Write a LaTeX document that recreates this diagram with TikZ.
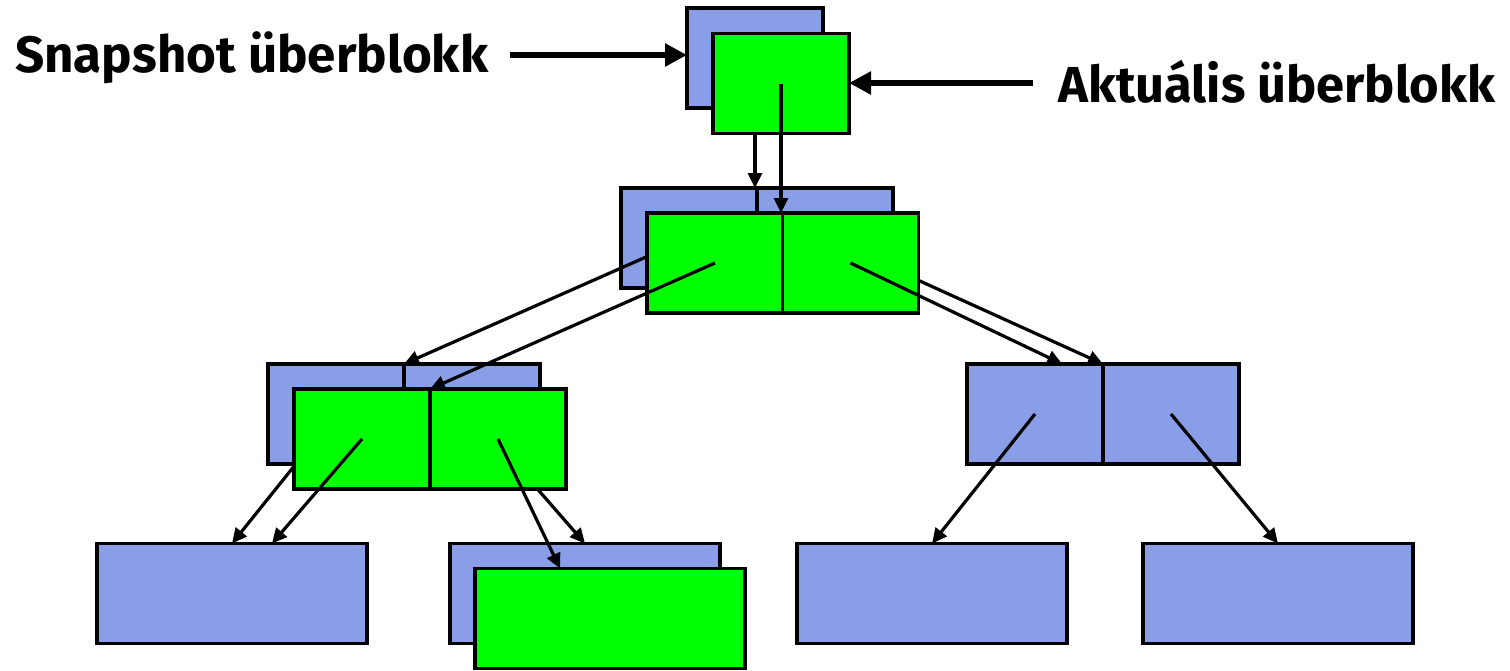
\documentclass[tikz,border=0pt]{standalone}
\usepackage{fontspec}
\setmainfont{Fira Sans}
\usetikzlibrary{arrows.meta,calc}
\definecolor{oldblue}{RGB}{137,158,230}
\definecolor{newgreen}{RGB}{0,255,0}
\begin{document}
\begin{tikzpicture}[x=1pt,y=-1pt,
  blk/.style={draw=black,line width=3.6pt,minimum width=136pt,minimum height=100pt,inner sep=0pt,outer sep=0pt},
  wide/.style={blk,minimum width=270pt},
  old/.style={fill=oldblue},
  new/.style={fill=newgreen},
  ptr/.style={line width=3.2pt,-{Triangle[length=15pt,width=14pt]}},
  bigptr/.style={line width=5.5pt,-{Triangle[length=22pt,width=22pt]}},
  lbl/.style={font=\bfseries\fontsize{58}{60}\selectfont,inner sep=0pt,anchor=base west}]
\useasboundingbox (0,0) rectangle (1510,670);
% old (blue) blocks
\node[blk,old] (b1) at (755,58) {};
\node[blk,old] (b2l) at (689,238) {};
\node[blk,old] (b2r) at (825,238) {};
\node[blk,old] (b3l) at (336,414) {};
\node[blk,old] (b3r) at (472,414) {};
\node[blk,old] (r3l) at (1035,414) {};
\node[blk,old] (r3r) at (1171,414) {};
\node[wide,old] (b4a) at (232,593.5) {};
\node[wide,old] (b4b) at (585,593.5) {};
\node[wide,old] (b4c) at (932,593.5) {};
\node[wide,old] (b4d) at (1278,593.5) {};
% old pointers
\draw[ptr] (b1.center) -- (b1.center |- b2l.north);
\draw[ptr] (b2l.center) -- (b3l.north east);
\draw[ptr] (b2r.center) -- (r3l.north east);
\draw[ptr] (b3l.center) -- (b4a.north);
\draw[ptr] (b3r.center) -- (b4b.north);
\draw[ptr] (r3l.center) -- (b4c.north);
\draw[ptr] (r3r.center) -- (b4d.north);
% new (green) blocks
\node[blk,new] (g1) at (781,83.5) {};
\node[blk,new] (g2l) at (715,263) {};
\node[blk,new] (g2r) at (850.5,263) {};
\node[blk,new] (g3l) at (362,439) {};
\node[blk,new] (g3r) at (498,439) {};
\node[wide,new] (g4b) at (610,618.5) {};
% new pointers
\draw[ptr] (g1.center) -- (g1.center |- g2l.north);
\draw[ptr] (g2l.center) -- (g3l.north east);
\draw[ptr] (g2r.center) -- ($(r3l.north west)!0.7!(r3l.north east)$);
\draw[ptr] (g3l.center) -- ($(b4a.north west)!0.648!(b4a.north east)$);
\draw[ptr] (g3r.center) -- ($(g4b.north west)!0.315!(g4b.north east)$);
% labels
\node[lbl] (snap) at (15,72) {\resizebox{473pt}{!}{Snapshot überblokk}};
\node[lbl] (akt) at (1058,102) {\resizebox{437pt}{!}{Aktuális überblokk}};
\coordinate (s0) at (510,55);
\coordinate (a0) at (1033,83);
\draw[bigptr] (s0) -- (s0 -| b1.west);
\draw[bigptr] (a0) -- (a0 -| g1.east);
\end{tikzpicture}
\end{document}
